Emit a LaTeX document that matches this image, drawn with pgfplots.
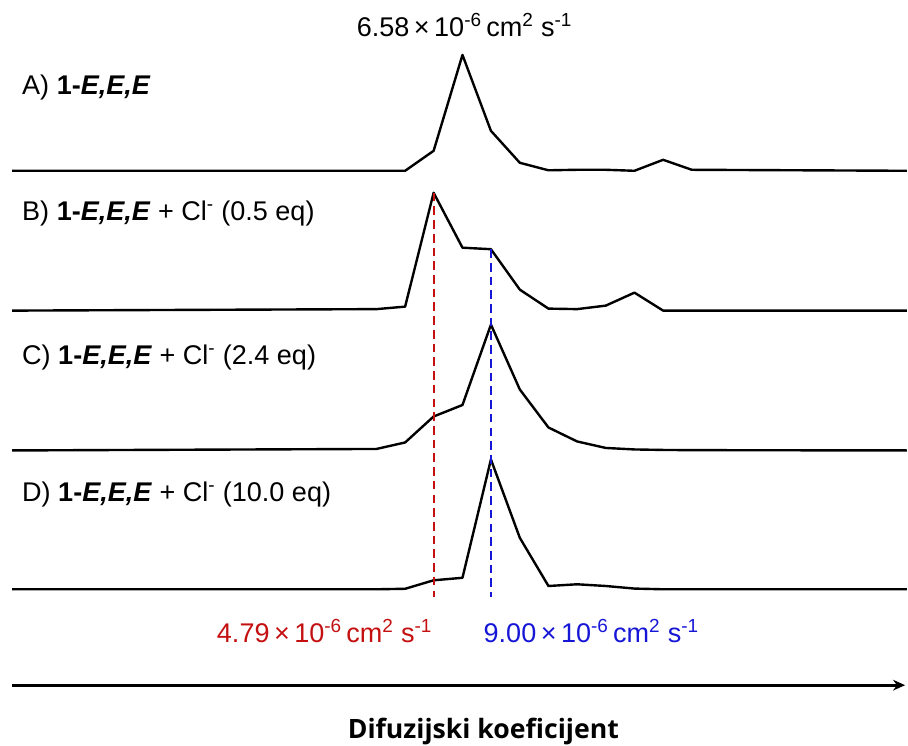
\documentclass[border=0pt]{standalone}
\usepackage{fontspec}
\setmainfont{Liberation Sans}
\newfontfamily\axisfont{Open Sans}
\usepackage{pgfplots}
\pgfplotsset{compat=1.18}
\usepackage{pgfplotstable}
\usetikzlibrary{arrows.meta}

\definecolor{dred}{RGB}{196,16,16}
\definecolor{dblue}{RGB}{22,22,215}

% DOSY projections: diffusion coefficient D (10^-6 cm^2 s^-1) and
% intensity of each trace above its own baseline
\pgfplotstableread{
D       A     B      C      Dt
0.0463  0     0      0      0
2.554   0     1.5    1.5    0
3.501   0     4      8      0.5
4.79    20    118    34     9
6.58    116   63     45.5   11.5
9.00    40    61.5   126    130
12.37   8     21     61     51.5
16.95   0.5   2      23     3.3
23.24   1     1.5    9      5
31.86   1     5      2.5    3.3
43.68   0     18     1      0.7
59.88   11    0      0.5    0
82.1    1     0      0.3    0
875     0     0      0      0
}\spectra

\tikzset{lbl/.style={font=\fontsize{20.3}{24}\selectfont, inner sep=0pt}}

\begin{document}
\begin{tikzpicture}
\begin{axis}[
  xmode=log, xmin=0.04052, xmax=876,
  ymin=0, ymax=746,
  width=681pt, height=559.5pt, scale only axis,
  hide axis, clip=false,
]
% frame of the picture
\path (rel axis cs:0,0) rectangle (rel axis cs:1,1);

% stacked traces
\addplot[black, line width=1.8pt, line join=round] table[x=D, y expr=\thisrow{A}+575] {\spectra};
\addplot[black, line width=1.8pt, line join=round] table[x=D, y expr=\thisrow{B}+435] {\spectra};
\addplot[black, line width=1.8pt, line join=round] table[x=D, y expr=\thisrow{C}+295] {\spectra};
\addplot[black, line width=1.8pt, line join=round] table[x=D, y expr=\thisrow{Dt}+156] {\spectra};

% the two diffusing species
\addplot[dred, line width=1.6pt, dash pattern=on 6.5pt off 3.8pt] coordinates {(4.79,553) (4.79,148)};
\addplot[dblue, line width=1.6pt, dash pattern=on 6.5pt off 3.8pt] coordinates {(9.00,496.5) (9.00,148)};

% trace labels
\node[lbl, anchor=base west] at (rel axis cs:0.0242,0.8727) {A) \textbf{1-\textit{E,E,E}}};
\node[lbl, anchor=base west] at (rel axis cs:0.0242,0.7038) {B) \textbf{1-\textit{E,E,E}} + Cl\textsuperscript{-} (0.5 eq)};
\node[lbl, anchor=base west] at (rel axis cs:0.0242,0.5107) {C) \textbf{1-\textit{E,E,E}} + Cl\textsuperscript{-} (2.4 eq)};
\node[lbl, anchor=base west] at (rel axis cs:0.0242,0.3271) {D) \textbf{1-\textit{E,E,E}} + Cl\textsuperscript{-} (10.0 eq)};

% diffusion coefficients
\node[lbl, anchor=base] at (rel axis cs:0.5121,0.9504) {6.58\,×\,10\textsuperscript{-6}\,cm\textsuperscript{2} s\textsuperscript{-1}};
\node[lbl, anchor=base, text=dred] at (rel axis cs:0.3579,0.1381) {4.79\,×\,10\textsuperscript{-6}\,cm\textsuperscript{2} s\textsuperscript{-1}};
\node[lbl, anchor=base, text=dblue] at (rel axis cs:0.6520,0.1381) {9.00\,×\,10\textsuperscript{-6}\,cm\textsuperscript{2} s\textsuperscript{-1}};

% diffusion axis
\draw[-{Stealth[length=9pt,width=8pt]}, line width=2.2pt] (rel axis cs:0.0132,0.0804) -- (rel axis cs:0.998,0.0804);
\node[anchor=base, inner sep=0pt, font=\axisfont\bfseries\fontsize{20}{24}\selectfont] at (rel axis cs:0.533,0.009) {Difuzijski koeficijent};
\end{axis}
\end{tikzpicture}
\end{document}
